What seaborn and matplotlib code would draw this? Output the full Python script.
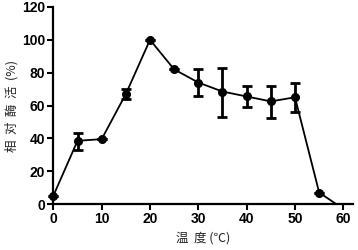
import matplotlib
matplotlib.use("Agg")
import matplotlib.pyplot as plt
import seaborn as sns
import numpy as np
import pandas as pd

temperature = [0, 5, 10, 15, 20, 25, 30, 35, 40, 45, 50, 55, 60]
activity = [5, 38.5, 39.5, 67, 100, 82, 74, 68.5, 65.5, 62.5, 65, 7, -3]
err_low = [0, 5.5, 0, 3, 0, 0, 8.5, 15.5, 6.5, 10, 9, 0, 0]
err_high = [0, 5, 0, 3, 0, 0, 8, 14.5, 6.5, 9.5, 9, 0, 0]
xticks = [0, 10, 20, 30, 40, 50, 60]
yticks = [0, 20, 40, 60, 80, 100, 120]

sns.set_theme(style="ticks")
plt.rcParams['font.family'] = ['Liberation Sans', 'DejaVu Sans']

df = pd.DataFrame({"t": temperature, "a": activity})

fig = plt.figure(figsize=(3.58, 2.5), dpi=100)
ax = fig.add_axes([0.149, 0.184, 0.837, 0.788])

sns.lineplot(data=df, x="t", y="a", ax=ax, color="black", linewidth=1.3)

vis = df["a"] >= 0
t_arr = np.array(temperature)[vis.values]
a_arr = np.array(activity)[vis.values]
el = np.array(err_low)[vis.values]
eh = np.array(err_high)[vis.values]
eb = ax.errorbar(t_arr, a_arr, yerr=[el, eh], fmt="o", color="black",
                 markersize=5.5, capsize=3.8, elinewidth=2, capthick=2,
                 clip_on=False, zorder=5)
for art in eb.lines[1] + eb.lines[2]:
    art.set_clip_on(False)
for ln in eb.lines:
    if hasattr(ln, "set_clip_on"):
        ln.set_clip_on(False)

ax.set_xlim(0, 62)
ax.set_ylim(0, 120)
ax.set_xticks(xticks)
ax.set_yticks(yticks)
ax.tick_params(axis="both", direction="out", length=4, width=1.5,
               labelsize=10, pad=2, colors="black")
for lab in ax.get_xticklabels() + ax.get_yticklabels():
    lab.set_fontweight("bold")
for s in ["left", "bottom"]:
    ax.spines[s].set_linewidth(1.6)
    ax.spines[s].set_color("black")
sns.despine(ax=ax)

ax.set_xlabel("温  度 (℃)", family=["Noto Sans CJK SC", "DejaVu Sans"],
              fontsize=9, labelpad=4)
ax.set_ylabel("相  对  酶  活  (%)", family=["Noto Sans CJK SC", "DejaVu Sans"],
              fontsize=9, labelpad=2)

fig.savefig("out.png", dpi=100)
